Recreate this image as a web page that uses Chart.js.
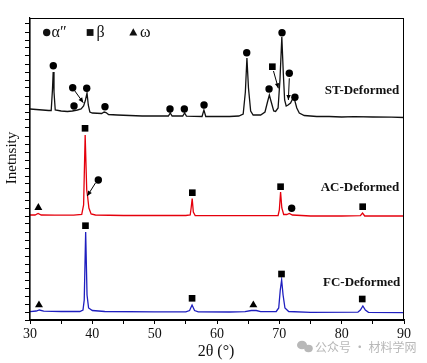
<!DOCTYPE html>
<html>
<head>
<meta charset="utf-8">
<title>XRD patterns</title>
<script src="https://cdn.jsdelivr.net/npm/chart.js"></script>
<style>
  html, body { margin: 0; padding: 0; background: #fff; }
</style>
</head>
<body>
<canvas id="xrd" width="427" height="363"></canvas>
<script>
// x axis (2θ, degrees)
const xTickLabels = [30, 40, 50, 60, 70, 80, 90];

// ST-Deformed (black) trace
const stX = [30, 31, 32, 33, 33.4, 33.6, 33.72, 33.85, 34.05, 35, 36, 36.8, 37.6, 38.2, 38.6, 38.9, 39.15, 39.35, 39.6, 40,
  41.5, 41.9, 42.2, 42.6, 44, 46, 48, 50, 52.2, 52.5, 52.8, 54.5, 54.8, 55.1, 57.6, 57.9, 58.2, 60, 62, 63.5,
  64.2, 64.55, 64.8, 65.05, 65.4, 65.8, 67, 67.7, 68.1, 68.4, 68.7, 69.1, 69.4, 69.8, 70.1, 70.4, 70.65, 70.85,
  71.1, 71.4, 71.8, 72.2, 72.5, 72.8, 73.2, 74, 76, 78, 80, 82, 85, 88, 90];
const stY = [211, 210.5, 210, 209.5, 209.5, 230, 248, 228, 210, 209, 208.5, 209, 210, 211, 214, 220, 227, 215, 208, 207,
  206.5, 208, 207.5, 205.5, 205, 204.5, 204, 204, 204, 207, 204, 204, 207, 203.8, 203.5, 210, 203.5, 203.5, 203.5, 204,
  206, 228, 262, 232, 209, 205, 205, 208, 218, 225, 218, 209, 208.5, 212, 240, 283, 245, 220,
  214, 215, 217, 222, 219, 212, 207, 204.5, 203.5, 203.5, 203, 203.3, 203, 202.8, 202.5];

// AC-Deformed (red) trace
const acX = [30, 30.8, 31.3, 31.8, 34, 37, 38.3, 38.6, 38.85, 39.1, 39.25, 39.45, 39.8, 40.5, 45, 50, 55, 55.7, 55.85, 56.02,
  56.2, 56.5, 60, 65, 69.8, 70.0, 70.2, 70.4, 70.7, 71.2, 71.6, 72.1, 75, 80, 83.0, 83.35, 83.7, 90];
const acY = [105, 105, 106.5, 105, 104.8, 104.8, 105.5, 115, 185, 130, 123, 112, 106, 105, 104.5, 104.5, 104.5, 105, 112, 121.5,
  108, 104.5, 104.3, 104.3, 104.5, 110, 128, 112, 105.5, 105.5, 106.5, 105, 104, 104, 104.3, 107, 104, 104];

// FC-Deformed (blue) trace
const fcX = [30, 31, 31.5, 32.2, 35, 38, 38.5, 38.7, 38.93, 39.15, 39.4, 40, 42, 50, 55, 55.6, 56.0, 56.4, 57, 62,
  64.5, 65.5, 66.3, 67, 69.5, 69.9, 70.15, 70.37, 70.6, 70.9, 71.5, 75, 82.6, 83.0, 83.4, 83.8, 84.3, 90];
const fcY = [8.3, 9, 10, 8.8, 8.5, 8.5, 10, 20, 88, 25, 12, 9.5, 8.5, 8.2, 8.2, 9.5, 15, 9.5, 8.2, 8,
  8.3, 9.5, 9.5, 8.3, 8.5, 12, 30, 40, 25, 12, 8.5, 7.7, 7.8, 10, 14, 10, 7.7, 7.3];

// phase markers
const alphaX = [33.74, 36.85, 37.06, 39.1, 42.03, 52.46, 54.76, 57.92, 64.77, 68.35, 70.43, 71.6, 72.5, 40.96, 71.98];
const alphaY = [254.3, 232.3, 214, 231.7, 213.3, 211, 211, 215, 267.3, 231, 287.3, 246.7, 222.7, 140, 111.7];
const betaX = [68.88, 38.83, 56.04, 70.2, 83.37, 38.9, 56.0, 70.35, 83.3];
const betaY = [253.3, 191.7, 127.3, 133.3, 113.3, 94.3, 21.7, 46, 21];
const omegaX = [31.34, 31.44, 65.83];
const omegaY = [112.3, 15, 15];

// arrows (from -> to)
const arrowFromX = [37.2, 69.06, 71.6, 40.5];
const arrowFromY = [229, 249, 241.7, 137];
const arrowToX = [38.55, 69.84, 71.45, 39.19];
const arrowToY = [217.3, 231.7, 220, 124];

const sampleNames = ['ST-Deformed', 'AC-Deformed', 'FC-Deformed'];
const phaseNames = ['α″', 'β', 'ω'];

const toPts = (xs, ys) => xs.map((x, i) => ({ x: x, y: ys[i] }));

const datasets = [];
datasets.push({ data: toPts(alphaX, alphaY), pointStyle: 'circle', pointRadius: 3.7, backgroundColor: '#000', borderWidth: 0, showLine: false });
datasets.push({ data: toPts(betaX, betaY), pointStyle: 'rect', pointRadius: 4.7, backgroundColor: '#000', borderWidth: 0, showLine: false });
datasets.push({ data: toPts(omegaX, omegaY), pointStyle: 'triangle', pointRadius: 4.6, backgroundColor: '#000', borderWidth: 0, showLine: false });
arrowFromX.forEach((fx, i) => {
  datasets.push({
    data: [{ x: fx, y: arrowFromY[i] }, { x: arrowToX[i], y: arrowToY[i] }],
    showLine: true, borderColor: '#000', borderWidth: 1, pointRadius: 0, arrow: true
  });
});
const traceCols = ['#111', '#e5000c', '#1f1fbf'];
[[stX, stY], [acX, acY], [fcX, fcY]].forEach((t, i) => {
  datasets.push({
    data: toPts(t[0], t[1]), showLine: true, borderColor: traceCols[i],
    borderWidth: 1.3, pointRadius: 0, tension: 0
  });
});

const decor = {
  id: 'decor',
  afterDraw(chart) {
    const { ctx, chartArea: a, scales: { x, y } } = chart;
    ctx.save();
    ctx.strokeStyle = '#000';
    ctx.lineWidth = 1;
    ctx.strokeRect(a.left, a.top + 0.5, a.right - a.left - 0.5, a.bottom - a.top);

    // arrow heads
    chart.data.datasets.forEach((ds, i) => {
      if (!ds.arrow) return;
      const pts = chart.getDatasetMeta(i).data;
      const p0 = pts[0], p1 = pts[1];
      const ang = Math.atan2(p1.y - p0.y, p1.x - p0.x);
      const L = 5, W = 2.2;
      ctx.beginPath();
      ctx.moveTo(p1.x, p1.y);
      ctx.lineTo(p1.x - L * Math.cos(ang) + W * Math.sin(ang), p1.y - L * Math.sin(ang) - W * Math.cos(ang));
      ctx.lineTo(p1.x - L * Math.cos(ang) - W * Math.sin(ang), p1.y - L * Math.sin(ang) + W * Math.cos(ang));
      ctx.closePath();
      ctx.fillStyle = '#000';
      ctx.fill();
    });

    // sample names
    ctx.fillStyle = '#111';
    ctx.font = 'bold 13px "Liberation Serif"';
    ctx.textAlign = 'center';
    ctx.textBaseline = 'middle';
    const nameX = [83.26, 82.94, 83.2];
    const nameY = [229.3, 132.7, 37.7];
    sampleNames.forEach((n, i) => ctx.fillText(n, x.getPixelForValue(nameX[i]), y.getPixelForValue(nameY[i])));

    // phase key
    ctx.font = '16px "Liberation Serif"';
    ctx.textAlign = 'left';
    const ky = a.top + 14.5;
    ctx.beginPath(); ctx.arc(a.left + 16.7, ky, 3.7, 0, Math.PI * 2); ctx.fill();
    ctx.fillText(phaseNames[0], a.left + 21.5, ky);
    ctx.fillRect(a.left + 56.7, ky - 3.4, 6.8, 6.8);
    ctx.fillText(phaseNames[1], a.left + 66.5, ky + 0.5);
    ctx.beginPath();
    ctx.moveTo(a.left + 103.3, ky - 4.2);
    ctx.lineTo(a.left + 107.3, ky + 3);
    ctx.lineTo(a.left + 99.3, ky + 3);
    ctx.closePath(); ctx.fill();
    ctx.fillText(phaseNames[2], a.left + 110, ky);

    // axis titles
    ctx.font = '15px "Liberation Serif"';
    ctx.textAlign = 'center';
    ctx.save();
    ctx.translate(12, 158);
    ctx.rotate(-Math.PI / 2);
    ctx.fillText('Inetnsity', 0, 0);
    ctx.restore();
    ctx.font = '16px "Liberation Serif"';
    ctx.fillText('2θ (°)', 216, 352);

    // watermark
    ctx.fillStyle = '#b8b8b8';
    ctx.beginPath(); ctx.ellipse(302, 345, 5, 4.3, 0, 0, Math.PI * 2); ctx.fill();
    ctx.beginPath(); ctx.ellipse(308.5, 348.5, 4.3, 3.7, 0, 0, Math.PI * 2); ctx.fill();
    ctx.font = '12px "Noto Sans CJK SC"';
    ctx.textAlign = 'left';
    ctx.fillText('公众号 · 材料学网', 315, 347);
    ctx.restore();
  }
};

new Chart(document.getElementById('xrd'), {
  type: 'scatter',
  data: { datasets: datasets },
  options: {
    responsive: false,
    animation: false,
    events: [],
    layout: { padding: { left: 24, right: 23, top: 18, bottom: 0 } },
    plugins: { legend: { display: false }, tooltip: { enabled: false } },
    scales: {
      x: {
        type: 'linear', min: 30, max: 90,
        afterFit: s => { s.height = 43; },
        afterBuildTicks: s => { s.ticks = []; for (let v = 30; v <= 90; v += 5) s.ticks.push({ value: v }); },
        ticks: {
          color: '#111', padding: 2, maxRotation: 0, autoSkip: false,
          font: { family: 'Liberation Serif', size: 14 },
          callback: v => xTickLabels.includes(v) ? String(v) : ''
        },
        grid: { drawOnChartArea: false, drawTicks: true, tickLength: 4, color: '#000', lineWidth: 1 },
        border: { display: true, color: '#000', width: 1.2 }
      },
      y: {
        type: 'linear', min: 0, max: 302,
        afterFit: s => { s.width = 6; },
        afterBuildTicks: s => { s.ticks = []; for (let v = 0; v < 302; v += 8) s.ticks.push({ value: v }); },
        ticks: { display: false },
        grid: { drawOnChartArea: false, drawTicks: true, tickLength: 5, color: '#000', lineWidth: 1 },
        border: { display: true, color: '#000', width: 1.2 }
      }
    }
  },
  plugins: [decor]
});
</script>
</body>
</html>
